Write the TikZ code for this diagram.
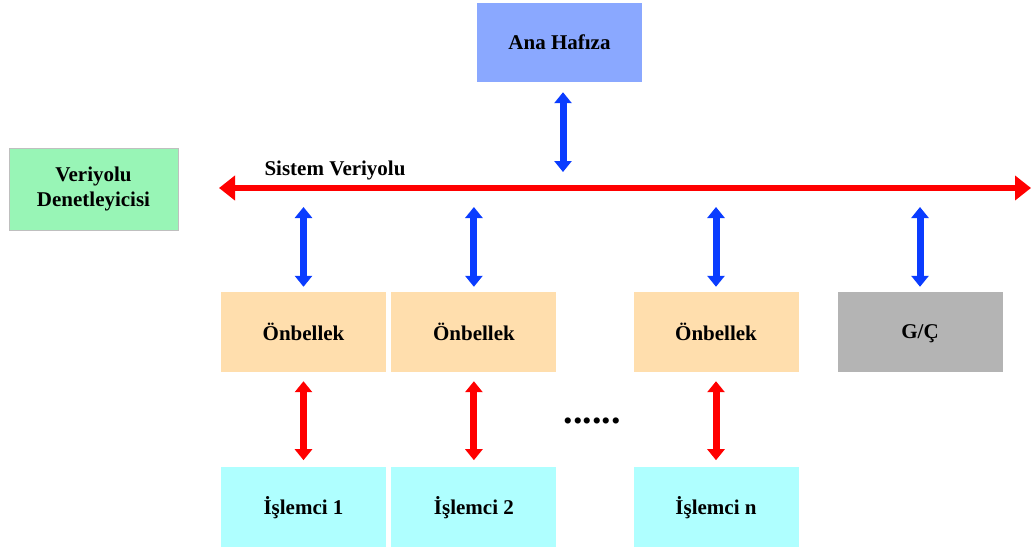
\documentclass[tikz,border=0pt]{standalone}
\usepackage{fontspec}
\setmainfont{Liberation Serif}
\usepackage{xcolor}
\usepackage{tikz}
\usetikzlibrary{shapes,calc,arrows.meta,positioning}
\definecolor{memblue}{RGB}{138,168,255}
\definecolor{ctrlgreen}{RGB}{152,245,182}
\definecolor{cachetan}{RGB}{255,222,173}
\definecolor{cpucyan}{RGB}{175,255,255}
\definecolor{iogray}{RGB}{180,180,180}
\definecolor{arrblue}{RGB}{10,60,255}
\tikzset{
  box/.style={rectangle, draw=none, minimum width=165pt, minimum height=80pt, text centered, font=\fontsize{21}{25}\selectfont\bfseries},
  mem_n/.style={box, fill=memblue, minimum height=79pt},
  ctrl_n/.style={box, fill=ctrlgreen, draw=black!25, minimum width=169pt, minimum height=82pt, align=center},
  cache_n/.style={box, fill=cachetan},
  cpu_n/.style={box, fill=cpucyan},
  io_n/.style={box, fill=iogray, text depth=0pt},
  blu_a/.style={arrblue, line width=7pt, {Triangle[width=17pt,length=11pt]}-{Triangle[width=17pt,length=11pt]}},
  red_a/.style={red, line width=7pt, {Triangle[width=17pt,length=11pt]}-{Triangle[width=17pt,length=11pt]}},
  bus_a/.style={red, line width=6pt, {Triangle[width=24pt,length=16pt]}-{Triangle[width=24pt,length=16pt]}}
}
\begin{document}
\begin{tikzpicture}[x=1pt,y=-1pt]
			\useasboundingbox (0,0) rectangle (1033,552);
			% memory and bus
			\node[mem_n] (mem) at (559.5,42.5) {Ana Hafıza};
			\node[ctrl_n] (ctrl) at (93.5,189) {Veriyolu\\Denetleyicisi};
			\coordinate (busL) at (219,188);
			\coordinate (busR) at (1031,188);
			\coordinate (memout) at ($(mem.south)+(3.5,0)$);
			\node[font=\fontsize{21}{25}\selectfont\bfseries] (buslbl) at (335,170) {Sistem Veriyolu};
			% caches, io
			\node[cache_n] (cache1) at (303.5,332) {Önbellek};
			\node[cache_n, right=5pt of cache1] (cache2) {Önbellek};
			\node[cache_n] (cachen) at (716,332) {Önbellek};
			\node[io_n] (io) at (920,332) {G/Ç};
			% processors
			\node[cpu_n, below=95pt of cache1] (cpu1) {İşlemci 1};
			\node[cpu_n, below=95pt of cache2] (cpu2) {İşlemci 2};
			\node[cpu_n, below=95pt of cachen] (cpun) {İşlemci n};
			\node[font=\fontsize{38}{40}\selectfont\bfseries] (dots) at (592,421) {......};
			% arrows
			\draw[bus_a] (busL) -- (busR);
			\draw[blu_a, shorten <=10pt, shorten >=16pt] (memout) -- (memout |- busL);
			\foreach \n in {cache1,cache2,cachen,io}
				\draw[blu_a, shorten <=19pt, shorten >=5pt] (\n.north |- busL) -- (\n.north);
			\foreach \n/\m in {cache1/cpu1,cache2/cpu2,cachen/cpun}
				\draw[red_a, shorten <=9pt, shorten >=7pt] (\n.south) -- (\m.north);
\end{tikzpicture}
\end{document}
